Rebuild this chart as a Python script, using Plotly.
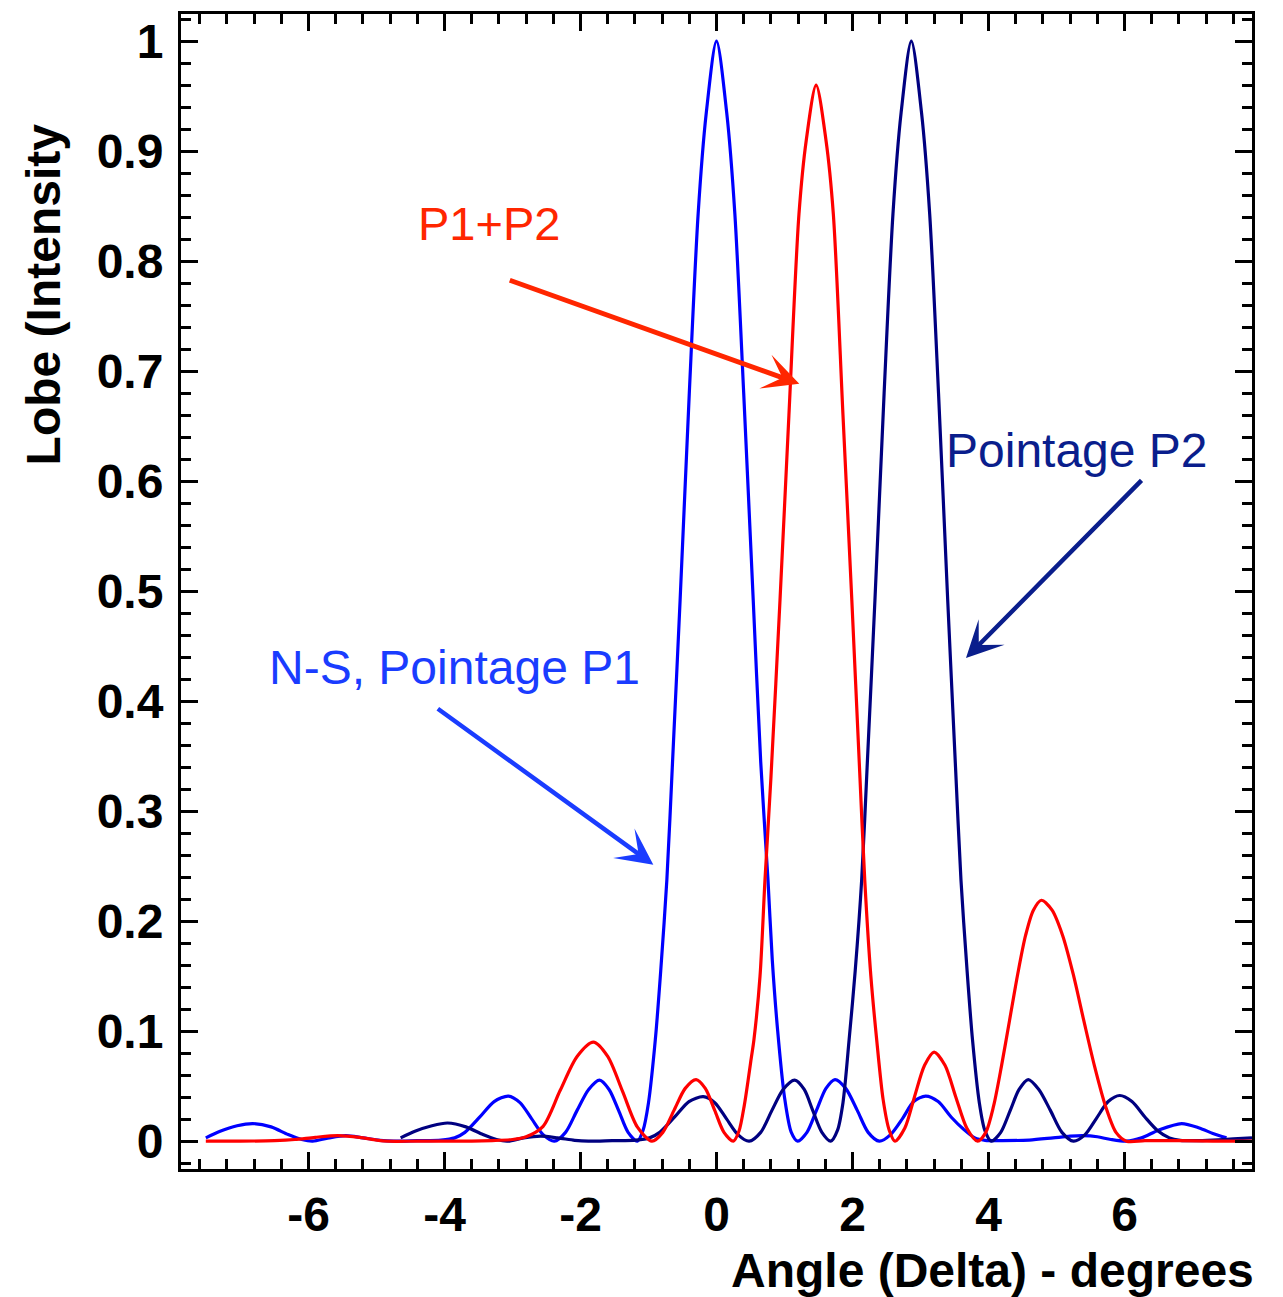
import plotly.graph_objects as go

# ---- Beam patterns (angle in degrees, normalised intensity) ----
p1_angle = [-7.51, -7.30, -7.05, -6.82, -6.55, -6.30, -6.10, -5.94, -5.70, -5.45,
            -5.20, -4.95, -4.75, -4.40, -4.05, -3.85, -3.70, -3.48, -3.27, -3.06,
            -2.89, -2.72, -2.55, -2.385, -2.22, -2.05, -1.88, -1.72, -1.58, -1.44,
            -1.30, -1.165, -1.08, -1.00, -0.90, -0.82, -0.73, -0.65, -0.535, -0.40,
            -0.27, -0.15, 0.00, 0.15, 0.27, 0.40, 0.54, 0.65, 0.757, 0.82,
            0.90, 1.00, 1.10, 1.194, 1.33, 1.47, 1.61, 1.743, 1.90, 2.07,
            2.23, 2.394, 2.56, 2.74, 2.90, 3.076, 3.26, 3.45, 3.63, 3.80,
            3.95, 4.20, 4.60, 4.95, 5.20, 5.39, 5.60, 5.80, 6.03, 6.25,
            6.50, 6.84, 7.10, 7.30, 7.50]
p1_level = [0.003, 0.009, 0.014, 0.016, 0.013, 0.006, 0.0015, 0.0, 0.003, 0.005,
            0.003, 0.0008, 0.0, 0.0005, 0.001, 0.003, 0.008, 0.022, 0.036, 0.041,
            0.035, 0.0205, 0.006, 0.0, 0.008, 0.028, 0.047, 0.0555, 0.047, 0.028,
            0.008, 0.0, 0.010, 0.035, 0.092, 0.155, 0.2375, 0.34, 0.492, 0.68,
            0.843, 0.935, 1.0, 0.935, 0.843, 0.68, 0.492, 0.345, 0.2375, 0.165,
            0.100, 0.040, 0.008, 0.0, 0.008, 0.028, 0.048, 0.056, 0.048, 0.028,
            0.008, 0.0, 0.006, 0.021, 0.036, 0.041, 0.036, 0.022, 0.011, 0.003,
            0.0008, 0.0005, 0.001, 0.003, 0.0045, 0.005, 0.004, 0.0015, 0.0, 0.003,
            0.010, 0.016, 0.012, 0.007, 0.003]

p2_angle = [-4.645, -4.435, -4.185, -3.955, -3.685, -3.435, -3.235, -3.075, -2.835, -2.585,
            -2.335, -2.085, -1.885, -1.535, -1.185, -0.985, -0.835, -0.615, -0.405, -0.195,
            -0.025, 0.145, 0.315, 0.48, 0.65, 0.815, 0.98, 1.15, 1.29, 1.415,
            1.55, 1.68, 1.78, 1.86, 1.95, 2.04, 2.135, 2.215, 2.33, 2.465,
            2.595, 2.715, 2.865, 3.015, 3.135, 3.265, 3.40, 3.515, 3.595, 3.685,
            3.765, 3.865, 3.945, 4.04, 4.18, 4.32, 4.45, 4.585, 4.74, 4.91,
            5.08, 5.25, 5.42, 5.59, 5.76, 5.93, 6.11, 6.30, 6.48, 6.66,
            6.82, 7.05, 7.30, 7.60, 7.875]
p2_level = [0.003, 0.009, 0.014, 0.0165, 0.013, 0.006, 0.0015, 0.0, 0.003, 0.0045,
            0.003, 0.0008, 0.0, 0.0005, 0.001, 0.003, 0.008, 0.022, 0.036, 0.0405,
            0.035, 0.0205, 0.006, 0.0, 0.008, 0.028, 0.047, 0.0555, 0.047, 0.028,
            0.008, 0.0, 0.010, 0.035, 0.092, 0.155, 0.2375, 0.34, 0.492, 0.68,
            0.843, 0.935, 1.0, 0.935, 0.843, 0.68, 0.492, 0.34, 0.2375, 0.155,
            0.092, 0.035, 0.010, 0.0, 0.008, 0.028, 0.047, 0.056, 0.047, 0.028,
            0.008, 0.0, 0.006, 0.021, 0.036, 0.0415, 0.036, 0.022, 0.010, 0.003,
            0.0008, 0.0005, 0.001, 0.002, 0.003]

sum_angle = [-7.51, -7.00, -6.50, -6.20, -5.90, -5.57, -5.25, -5.00, -4.84, -4.40,
             -4.00, -3.60, -3.30, -3.00, -2.80, -2.55, -2.30, -2.05, -1.81, -1.60,
             -1.38, -1.165, -0.95, -0.79, -0.625, -0.46, -0.30, -0.165, -0.026, 0.11,
             0.247, 0.33, 0.41, 0.51, 0.55, 0.64, 0.713, 0.80, 0.934, 1.065,
             1.213, 1.32, 1.465, 1.61, 1.718, 1.86, 1.99, 2.11, 2.18, 2.27,
             2.356, 2.45, 2.54, 2.625, 2.77, 2.91, 3.06, 3.20, 3.36, 3.52,
             3.68, 3.84, 3.96, 4.075, 4.19, 4.31, 4.43, 4.545, 4.66, 4.78,
             4.935, 5.09, 5.245, 5.40, 5.56, 5.72, 5.875, 6.03, 6.30, 6.80,
             7.30, 7.875]
sum_level = [0.0, 0.0, 0.0005, 0.0015, 0.0035, 0.005, 0.0035, 0.001, 0.0, 0.0,
             0.0, 0.0, 0.0005, 0.0015, 0.004, 0.0135, 0.046, 0.077, 0.090, 0.077,
             0.045, 0.013, 0.0, 0.008, 0.028, 0.048, 0.056, 0.048, 0.028, 0.008,
             0.0, 0.009, 0.033, 0.075, 0.092, 0.15, 0.2375, 0.33, 0.492, 0.66,
             0.843, 0.91, 0.96, 0.91, 0.843, 0.66, 0.492, 0.33, 0.2375, 0.15,
             0.092, 0.038, 0.010, 0.0, 0.012, 0.040, 0.069, 0.081, 0.069, 0.040,
             0.012, 0.0, 0.008, 0.032, 0.068, 0.11, 0.152, 0.187, 0.21, 0.219,
             0.21, 0.187, 0.152, 0.11, 0.068, 0.032, 0.008, 0.0, 0.0005, 0.0005,
             0.0, 0.0]

x_ticks = [-6, -4, -2, 0, 2, 4, 6]
x_tick_text = ["-6", "-4", "-2", "0", "2", "4", "6"]
y_ticks = [0, 0.1, 0.2, 0.3, 0.4, 0.5, 0.6, 0.7, 0.8, 0.9, 1]
y_tick_text = ["0", "0.1", "0.2", "0.3", "0.4", "0.5", "0.6", "0.7", "0.8", "0.9", "1"]

BLUE = "#0000ff"
NAVY = "#000080"
RED = "#ff0000"
LABEL_BLUE = "#1a3cff"
LABEL_NAVY = "#0a1e8c"
LABEL_RED = "#ff2600"
FONT = "Liberation Sans, Arial, Helvetica, sans-serif"

fig = go.Figure()
for xs, ys, col in [(p1_angle, p1_level, BLUE),
                    (p2_angle, p2_level, NAVY),
                    (sum_angle, sum_level, RED)]:
    fig.add_trace(go.Scatter(x=xs, y=ys, mode="lines",
                             line=dict(color=col, width=3.2, shape="spline", smoothing=0.8),
                             hoverinfo="skip"))

axis_common = dict(
    showline=True, linecolor="black", linewidth=3, mirror="allticks",
    ticks="inside", tickcolor="black", tickwidth=3,
    showgrid=False, zeroline=False,
    tickfont=dict(family=FONT, size=48, color="black", weight="bold"),
)

fig.update_xaxes(range=[-7.875, 7.875], tickvals=x_ticks, ticktext=x_tick_text, ticklen=17,
                 ticklabelstandoff=1,
                 minor=dict(ticks="inside", ticklen=10, tickwidth=2.5, dtick=0.4,
                            tick0=0, tickcolor="black", showgrid=False),
                 **axis_common)
fig.update_yaxes(range=[-0.0253, 1.0247], tickvals=y_ticks, ticktext=y_tick_text, ticklen=17,
                 ticklabelstandoff=5,
                 minor=dict(ticks="inside", ticklen=10, tickwidth=2.5, dtick=0.02,
                            tick0=0, tickcolor="black", showgrid=False),
                 **axis_common)

annotations = [
    # axis titles
    dict(text="Angle (Delta) - degrees", xref="paper", yref="paper", x=1.004, y=-0.0875,
         xanchor="right", yanchor="middle", showarrow=False,
         font=dict(family=FONT, size=48, color="black", weight="bold")),
    dict(text="Lobe (Intensity", xref="paper", yref="paper", x=-0.1275, y=0.7576,
         xanchor="center", yanchor="middle", textangle=-90, showarrow=False,
         font=dict(family=FONT, size=48, color="black", weight="bold")),
    # curve labels
    dict(text="P1+P2", xref="paper", yref="paper", x=0.2194, y=0.8186,
         xanchor="left", yanchor="middle", showarrow=False,
         font=dict(family=FONT, size=47, color=LABEL_RED)),
    dict(text="Pointage P2", xref="paper", yref="paper", x=0.7124, y=0.6225,
         xanchor="left", yanchor="middle", showarrow=False,
         font=dict(family=FONT, size=48, color=LABEL_NAVY)),
    dict(text="N-S, Pointage P1", xref="paper", yref="paper", x=0.0805, y=0.4338,
         xanchor="left", yanchor="middle", showarrow=False,
         font=dict(family=FONT, size=48, color=LABEL_BLUE)),
    # pointer arrows
    dict(text="", xref="x", yref="y", x=1.2176, y=0.6886, ax=-291, ay=-104,
         showarrow=True, arrowhead=3, arrowsize=1.2, arrowwidth=5, arrowcolor=LABEL_RED),
    dict(text="", xref="x", yref="y", x=3.669, y=0.4393, ax=177, ay=-179,
         showarrow=True, arrowhead=3, arrowsize=1.35, arrowwidth=4.5, arrowcolor=LABEL_NAVY),
    dict(text="", xref="x", yref="y", x=-0.929, y=0.2514, ax=-217, ay=-157,
         showarrow=True, arrowhead=3, arrowsize=1.35, arrowwidth=4.5, arrowcolor=LABEL_BLUE),
]

fig.update_layout(
    width=1283, height=1297,
    margin=dict(l=181, r=31, t=14, b=128),
    plot_bgcolor="white", paper_bgcolor="white",
    showlegend=False,
    annotations=annotations,
)

fig.write_html("out.html")
